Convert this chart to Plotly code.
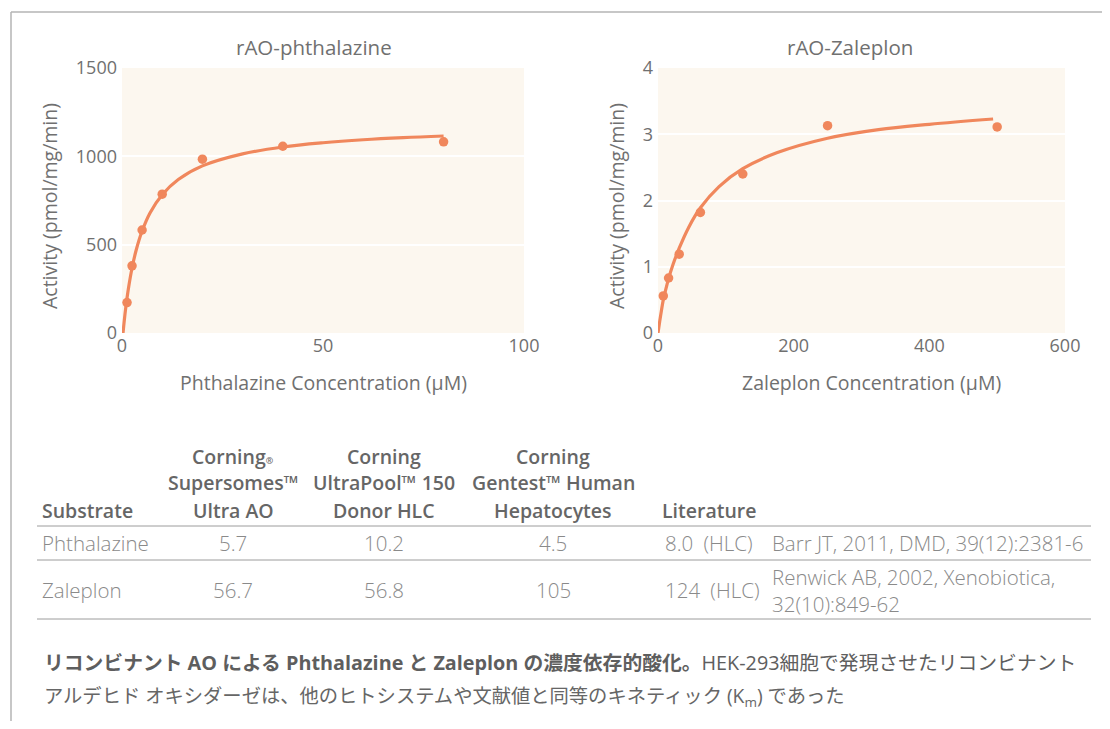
import plotly.graph_objects as go

# page is 1110x729; the browser body keeps an 8px margin, so the figure is 16px smaller
PAGE_W, PAGE_H = 1110, 729
OFF = 8
W, H = PAGE_W - 2 * OFF, PAGE_H - 2 * OFF

# ---------------- data ----------------
phth_conc = [1.25, 2.5, 5, 10, 20, 40, 80]
phth_activity = [172, 380, 583, 786, 984, 1057, 1082]
phth_fit_conc = [0.25, 0.5, 0.75, 1, 1.25, 1.75, 2.5, 3.5, 5, 7, 10, 14, 20, 30, 40, 50, 60, 70, 80]
phth_fit_activity = [0, 56, 108, 155, 198, 273, 368, 467, 577, 681, 783, 869, 946, 1014, 1053, 1077, 1094, 1106, 1115]

zal_conc = [7.8, 15.6, 31.25, 62.5, 125, 250, 500]
zal_activity = [0.56, 0.83, 1.19, 1.82, 2.40, 3.13, 3.11]
zal_fit_conc = [0, 2, 4, 7.8, 12, 15.6, 22, 31.25, 45, 62.5, 90, 125, 175, 250, 325, 400, 494]
zal_fit_activity = [0, 0.14, 0.27, 0.50, 0.68, 0.82, 1.03, 1.28, 1.59, 1.89, 2.21, 2.48, 2.72, 2.94, 3.07, 3.15, 3.23]

phth_xticks = [0, 50, 100]
phth_yticks = [0, 500, 1000, 1500]
zal_xticks = [0, 200, 400, 600]
zal_yticks = [0, 1, 2, 3, 4]

chart_titles = ["rAO-phthalazine", "rAO-Zaleplon"]
x_titles = ["Phthalazine Concentration (µM)", "Zaleplon Concentration (µM)"]
y_title = "Activity (pmol/mg/min)"

table_headers = [
    ["Substrate"],
    ["Corning<span style='font-size:9px'>®</span>", "Supersomes™", "Ultra AO"],
    ["Corning", "UltraPool™ 150", "Donor HLC"],
    ["Corning", "Gentest™ Human", "Hepatocytes"],
    ["Literature"],
]
substrates = ["Phthalazine", "Zaleplon"]
km_supersomes = ["5.7", "56.7"]
km_ultrapool = ["10.2", "56.8"]
km_hepatocytes = ["4.5", "105"]
km_literature = ["8.0\u2002(HLC)", "124\u2002(HLC)"]
references = [["Barr JT, 2011, DMD, 39(12):2381-6"],
              ["Renwick AB, 2002, Xenobiotica,", "32(10):849-62"]]

caption_bold = "リコンビナント AO による Phthalazine と Zaleplon の濃度依存的酸化。"
caption_rest1 = "HEK-293細胞で発現させたリコンビナント"
caption_line2 = "アルデヒド オキシダーゼは、他のヒトシステムや文献値と同等のキネティック (K<sub>m</sub>) であった"

# ---------------- style ----------------
ORANGE = "#F0875C"
PLOT_BG = "#FCF7EF"
GREY_T = "#707070"
FONT = "Open Sans, Noto Sans CJK JP, sans-serif"


def px(x):
    return (x - OFF) / W


def py(y):
    return 1 - (y - OFF) / H


fig = go.Figure()

fig.add_trace(go.Scatter(x=phth_fit_conc, y=phth_fit_activity, mode="lines",
                         line=dict(color=ORANGE, width=3.2, shape="spline"),
                         xaxis="x", yaxis="y", hoverinfo="skip", showlegend=False))
fig.add_trace(go.Scatter(x=phth_conc, y=phth_activity, mode="markers",
                         marker=dict(color=ORANGE, size=9.5),
                         xaxis="x", yaxis="y", showlegend=False))
fig.add_trace(go.Scatter(x=zal_fit_conc, y=zal_fit_activity, mode="lines",
                         line=dict(color=ORANGE, width=3.2, shape="spline"),
                         xaxis="x2", yaxis="y2", hoverinfo="skip", showlegend=False))
fig.add_trace(go.Scatter(x=zal_conc, y=zal_activity, mode="markers",
                         marker=dict(color=ORANGE, size=9.5),
                         xaxis="x2", yaxis="y2", showlegend=False))

L_X0, L_X1 = 122, 524
R_X0, R_X1 = 658, 1065
Y_TOP, Y_BOT = 68, 333

tickfont = dict(family=FONT, size=18, color=GREY_T)
common_x = dict(showgrid=False, zeroline=False, showline=False, ticks="",
                tickfont=tickfont, fixedrange=True, automargin=False)
common_y = dict(showgrid=True, gridcolor="white", gridwidth=2, zeroline=False,
                showline=False, ticks="", tickfont=tickfont, fixedrange=True,
                ticklabelstandoff=4, automargin=False)

fig.update_layout(
    width=W, height=H, autosize=False,
    margin=dict(l=0, r=0, t=0, b=0, pad=0, autoexpand=False),
    paper_bgcolor="white", plot_bgcolor=PLOT_BG,
    font=dict(family=FONT, color=GREY_T),
    xaxis=dict(domain=[px(L_X0), px(L_X1)], range=[0, 100], tickvals=phth_xticks,
               anchor="y", **common_x),
    yaxis=dict(domain=[py(Y_BOT), py(Y_TOP)], range=[0, 1500], tickvals=phth_yticks,
               anchor="x", **common_y),
    xaxis2=dict(domain=[px(R_X0), px(R_X1)], range=[0, 600], tickvals=zal_xticks,
                anchor="y2", **common_x),
    yaxis2=dict(domain=[py(Y_BOT), py(Y_TOP)], range=[0, 4], tickvals=zal_yticks,
                anchor="x2", **common_y),
)

ann = []


def text(x, y, s, size=18, color=GREY_T, xanchor="center", yanchor="middle",
         family=FONT, angle=0, weight=None):
    f = dict(family=family, size=size, color=color)
    if weight is not None:
        f["weight"] = weight
    ann.append(dict(x=px(x), y=py(y), xref="paper", yref="paper", text=s,
                    showarrow=False, xanchor=xanchor, yanchor=yanchor,
                    font=f, textangle=angle))


text(314, 47, chart_titles[0], size=20.5)
text(850, 47, chart_titles[1], size=20.5)
text(323, 383, x_titles[0], size=19.5)
text(871, 383, x_titles[1], size=19.5)
text(50, 206, y_title, size=19.5, angle=-90)
text(617, 206, y_title, size=19.5, angle=-90)

HDR = "#666666"
BODY = "#8a8a8a"
col_x = [None, 233, 384, 553, 709]
line_y = [456, 483, 510]
HS = 19.5
BS = 20.5
text(40, 510, table_headers[0][0], size=HS, color=HDR, xanchor="left", weight=600)
for ci in range(1, 4):
    for li, s in enumerate(table_headers[ci]):
        text(col_x[ci], line_y[li], s, size=HS, color=HDR, weight=600)
text(col_x[4], 510, table_headers[4][0], size=HS, color=HDR, weight=600)

row_y = [543, 590]
for r in range(2):
    text(40, row_y[r], substrates[r], size=BS, color=BODY, xanchor="left", weight=300)
    text(col_x[1], row_y[r], km_supersomes[r], size=BS, color=BODY, weight=300)
    text(col_x[2], row_y[r], km_ultrapool[r], size=BS, color=BODY, weight=300)
    text(col_x[3], row_y[r], km_hepatocytes[r], size=BS, color=BODY, weight=300)
    text(663, row_y[r], km_literature[r], size=BS, color=BODY, xanchor="left", weight=300)
text(770, 543, references[0][0], size=BS, color=BODY, xanchor="left", weight=300)
text(770, 577, references[1][0], size=BS, color=BODY, xanchor="left", weight=300)
text(770, 604, references[1][1], size=BS, color=BODY, xanchor="left", weight=300)

text(42, 662, "<b>" + caption_bold + "</b>" + caption_rest1, size=19.8, color="#5e5e5e",
     xanchor="left")
text(42, 696, caption_line2, size=19.3, color="#666666", xanchor="left")

fig.update_layout(annotations=ann)

shapes = []
shapes.append(dict(type="line", xref="paper", yref="paper", x0=px(11), x1=1,
                   y0=py(12), y1=py(12), line=dict(color="#b5b5b5", width=1.5)))
shapes.append(dict(type="line", xref="paper", yref="paper", x0=px(11), x1=px(11),
                   y0=py(12), y1=0, line=dict(color="#b5b5b5", width=1.5)))
for ly in [526, 560, 619]:
    shapes.append(dict(type="line", xref="paper", yref="paper", x0=px(37), x1=px(1091),
                       y0=py(ly), y1=py(ly), line=dict(color="#9c9c9c", width=1)))
fig.update_layout(shapes=shapes)

fig.write_html("out.html", config={"displayModeBar": False})
